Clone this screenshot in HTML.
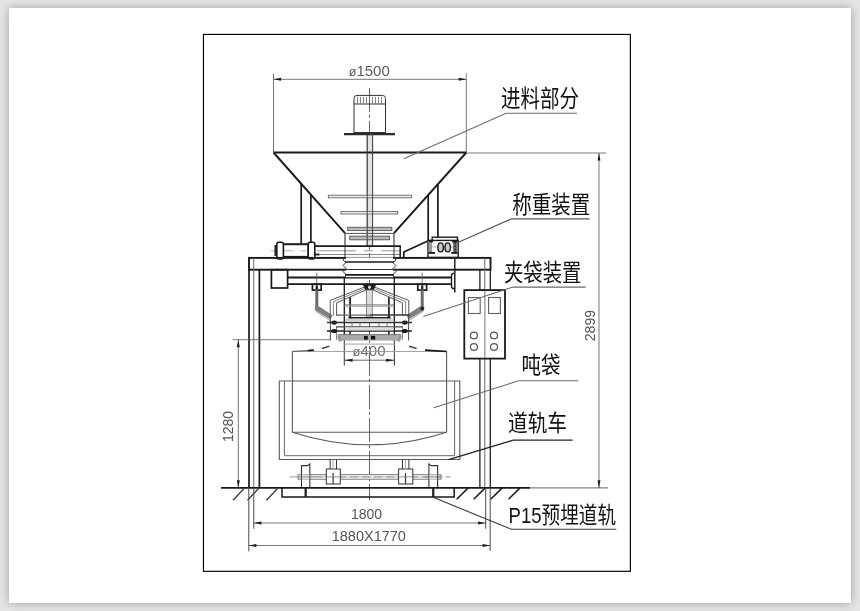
<!DOCTYPE html>
<html lang="zh">
<head>
<meta charset="utf-8">
<title>吨袋包装机 结构示意图</title>
<style>
html,body{margin:0;padding:0;}
body{width:860px;height:611px;background:#e4e4e4;overflow:hidden;position:relative;font-family:"Liberation Sans",sans-serif;}
.paper{position:absolute;left:9px;top:8px;width:842px;height:595px;background:#fff;box-shadow:0 0 9px 0 rgba(0,0,0,0.29);}
svg{position:absolute;left:0;top:0;will-change:transform;filter:grayscale(1);}
svg text{font-family:"Liberation Sans",sans-serif;}
svg text.lbl{font-family:"Liberation Sans","Noto Sans CJK SC",sans-serif;}
</style>
</head>
<body>
<div class="paper"></div>
<svg width="860" height="611" viewBox="0 0 860 611" stroke-linecap="butt">
<!-- drawing frame -->
<rect x="203.45" y="34.4" width="426.9" height="536.9" fill="none" stroke="#000" stroke-width="1.15"/>
<!-- centre line -->
<line x1="369.5" y1="88" x2="369.5" y2="500" stroke="#555" stroke-width="0.9" stroke-dasharray="24 3 3 3"/>
<!-- dim 1500 -->
<line x1="273.5" y1="73.5" x2="273.5" y2="152" stroke="#555" stroke-width="0.8"/>
<line x1="466.3" y1="73.5" x2="466.3" y2="152" stroke="#555" stroke-width="0.8"/>
<line x1="273.5" y1="79.3" x2="466.3" y2="79.3" stroke="#555" stroke-width="0.8"/>
<path d="M273.5 79.3L281.1 77.85L281.1 80.75Z" fill="#1a1a1a"/>
<path d="M466.3 79.3L458.7 80.75L458.7 77.85Z" fill="#1a1a1a"/>
<text x="369.3" y="75.5" font-size="15" fill="#5c5c5c" text-anchor="middle"><tspan font-size="12.5">ø</tspan>1500</text>
<!-- motor -->
<path d="M354 104V98.5Q354 95.4 357 95.4H382.5Q385.5 95.4 385.5 98.5V104" fill="none" stroke="#333" stroke-width="1.0"/>
<line x1="357.5" y1="96.8" x2="357.5" y2="103.5" stroke="#888" stroke-width="1.0"/>
<line x1="360.5" y1="96.8" x2="360.5" y2="103.5" stroke="#888" stroke-width="1.0"/>
<line x1="363.5" y1="96.8" x2="363.5" y2="103.5" stroke="#888" stroke-width="1.0"/>
<line x1="366.5" y1="96.8" x2="366.5" y2="103.5" stroke="#888" stroke-width="1.0"/>
<line x1="372.5" y1="96.8" x2="372.5" y2="103.5" stroke="#888" stroke-width="1.0"/>
<line x1="375.5" y1="96.8" x2="375.5" y2="103.5" stroke="#888" stroke-width="1.0"/>
<line x1="378.5" y1="96.8" x2="378.5" y2="103.5" stroke="#888" stroke-width="1.0"/>
<line x1="381.5" y1="96.8" x2="381.5" y2="103.5" stroke="#888" stroke-width="1.0"/>
<rect x="354" y="104" width="31.5" height="28.5" fill="none" stroke="#333" stroke-width="1.0"/>
<line x1="344" y1="134.2" x2="395" y2="134.2" stroke="#2a2a2a" stroke-width="2.3"/>
<rect x="367.2" y="135" width="5.4" height="111" fill="#e2e2e2" stroke="#555" stroke-width="0.9"/>
<!-- hopper -->
<line x1="273.5" y1="152.5" x2="466.3" y2="152.5" stroke="#1a1a1a" stroke-width="1.9"/>
<line x1="273.5" y1="152.5" x2="345" y2="233.2" stroke="#1a1a1a" stroke-width="1.9"/>
<line x1="466.3" y1="152.5" x2="394" y2="233.2" stroke="#1a1a1a" stroke-width="1.9"/>
<line x1="345" y1="233.4" x2="394" y2="233.4" stroke="#555" stroke-width="1.0"/>
<line x1="345" y1="233.2" x2="345" y2="246" stroke="#333" stroke-width="1.1"/>
<line x1="394" y1="233.2" x2="394" y2="246" stroke="#333" stroke-width="1.1"/>
<line x1="466" y1="153" x2="606" y2="153" stroke="#555" stroke-width="0.8"/>
<line x1="301.2" y1="184" x2="301.2" y2="243.4" stroke="#1a1a1a" stroke-width="1.7"/>
<line x1="310.9" y1="195" x2="310.9" y2="243.4" stroke="#1a1a1a" stroke-width="1.7"/>
<line x1="437.9" y1="184.5" x2="437.9" y2="237.5" stroke="#1a1a1a" stroke-width="1.7"/>
<line x1="428.2" y1="195.3" x2="428.2" y2="241" stroke="#1a1a1a" stroke-width="1.7"/>
<rect x="328.3" y="195.2" width="83.1" height="2.6" fill="#eee" stroke="#555" stroke-width="0.8"/>
<rect x="341" y="211.4" width="56.8" height="2.6" fill="#eee" stroke="#555" stroke-width="0.8"/>
<rect x="347.7" y="227.3" width="44.1" height="3.3" fill="#bbb" stroke="#555" stroke-width="0.9"/>
<rect x="349.7" y="236.2" width="39.8" height="3.6" fill="#bbb" stroke="#555" stroke-width="0.9"/>
<line x1="367.2" y1="135" x2="367.2" y2="246" stroke="#4a4a4a" stroke-width="1.0"/>
<line x1="372.6" y1="135" x2="372.6" y2="246" stroke="#4a4a4a" stroke-width="1.0"/>
<!-- cylinder + slide gate -->
<line x1="271" y1="250.8" x2="293" y2="250.8" stroke="#aaa" stroke-width="0.9"/>
<line x1="300.5" y1="250.8" x2="306.5" y2="250.8" stroke="#aaa" stroke-width="0.9"/>
<rect x="283" y="244.2" width="25.5" height="12.7" fill="none" stroke="#1a1a1a" stroke-width="2.0"/>
<rect x="276.8" y="242.2" width="6.6" height="16.8" fill="#fff" stroke="#1a1a1a" stroke-width="1.6" rx="2"/>
<rect x="308.2" y="242.2" width="6.6" height="16.8" fill="#fff" stroke="#1a1a1a" stroke-width="1.6" rx="2"/>
<line x1="275.2" y1="245" x2="275.2" y2="256" stroke="#1a1a1a" stroke-width="1.5"/>
<path d="M314.8 246.1H400.2" fill="none" stroke="#1a1a1a" stroke-width="1.8"/>
<path d="M314.8 254.5H319.6" fill="none" stroke="#1a1a1a" stroke-width="1.8"/>
<line x1="317" y1="250.8" x2="400" y2="250.8" stroke="#999" stroke-width="1.0" stroke-dasharray="39 8 9 8 18 0"/>
<line x1="319.6" y1="254.5" x2="400" y2="254.5" stroke="#888" stroke-width="1.0"/>
<line x1="400.2" y1="245.3" x2="400.2" y2="257.4" stroke="#1a1a1a" stroke-width="1.5"/>
<line x1="345" y1="246" x2="345" y2="257" stroke="#333" stroke-width="1.0"/>
<line x1="394" y1="246" x2="394" y2="257" stroke="#333" stroke-width="1.0"/>
<!-- weighing device -->
<line x1="403.8" y1="252" x2="427.2" y2="241.2" stroke="#1a1a1a" stroke-width="1.7"/>
<line x1="403.8" y1="251.5" x2="403.8" y2="257.4" stroke="#1a1a1a" stroke-width="1.7"/>
<rect x="428" y="240.3" width="30.2" height="17.1" fill="#fff" stroke="#1a1a1a" stroke-width="1.4"/>
<rect x="432.2" y="237.2" width="25.2" height="3.2" fill="#fff" stroke="#1a1a1a" stroke-width="1.4"/>
<rect x="428.6" y="242" width="3.4" height="10" fill="#999" stroke="none" stroke-width="0"/>
<rect x="453" y="241.5" width="4.4" height="11.5" fill="#777" stroke="none" stroke-width="0"/>
<line x1="432.2" y1="246.9" x2="453" y2="246.9" stroke="#888" stroke-width="0.7"/>
<ellipse cx="440.6" cy="247.4" rx="2.7" ry="4.5" fill="#ccc" stroke="#1a1a1a" stroke-width="1.4"/>
<ellipse cx="447.7" cy="247.4" rx="2.7" ry="4.5" fill="#ccc" stroke="#1a1a1a" stroke-width="1.4"/>
<line x1="428.6" y1="252.9" x2="435" y2="252.9" stroke="#1a1a1a" stroke-width="1.9"/>
<line x1="451.3" y1="252.9" x2="457.4" y2="252.9" stroke="#1a1a1a" stroke-width="1.9"/>
<line x1="429" y1="241.5" x2="433" y2="241.5" stroke="#1a1a1a" stroke-width="1.6"/>
<line x1="452" y1="241.5" x2="457.5" y2="241.5" stroke="#1a1a1a" stroke-width="1.6"/>
<line x1="455.2" y1="242" x2="455.2" y2="253" stroke="#1a1a1a" stroke-width="1.2" stroke-dasharray="2 1.2"/>
<!-- main frame -->
<rect x="249" y="257.9" width="241.5" height="11.8" fill="none" stroke="#1a1a1a" stroke-width="1.9"/>
<line x1="249" y1="269.5" x2="249" y2="487.9" stroke="#1a1a1a" stroke-width="1.7"/>
<line x1="253.7" y1="258.5" x2="253.7" y2="487.9" stroke="#777" stroke-width="1.1"/>
<line x1="259.4" y1="269.5" x2="259.4" y2="487.9" stroke="#1a1a1a" stroke-width="1.7"/>
<line x1="479.9" y1="269.5" x2="479.9" y2="487.9" stroke="#1a1a1a" stroke-width="1.25"/>
<line x1="484.8" y1="258" x2="484.8" y2="487.9" stroke="#6a6a6a" stroke-width="1.0"/>
<line x1="490.3" y1="269.5" x2="490.3" y2="487.9" stroke="#1a1a1a" stroke-width="1.25"/>
<rect x="271.4" y="269.7" width="16.2" height="18.3" fill="none" stroke="#1a1a1a" stroke-width="1.7"/>
<line x1="287.6" y1="277.5" x2="451.5" y2="277.5" stroke="#1a1a1a" stroke-width="1.8"/>
<line x1="287.6" y1="284.2" x2="451.5" y2="284.2" stroke="#1a1a1a" stroke-width="1.8"/>
<path d="M454.6 273.4H452.6L451.5 275V287L452.6 288.5H454.6" fill="none" stroke="#1a1a1a" stroke-width="1.4"/>
<line x1="454.8" y1="257.4" x2="454.8" y2="292.6" stroke="#222" stroke-width="1.5"/>
<!-- bellows -->
<rect x="346" y="257.4" width="47" height="19.8" fill="#fff" stroke="none" stroke-width="0"/>
<line x1="345" y1="262" x2="394" y2="262" stroke="#1a1a1a" stroke-width="1.6"/>
<line x1="345" y1="269.5" x2="394" y2="269.5" stroke="#333" stroke-width="1.0"/>
<line x1="345" y1="274.9" x2="394" y2="274.9" stroke="#1a1a1a" stroke-width="1.6"/>
<path d="M345 257.4L343 260L346 262.5L343 265.5L346 268.5L343 271.5L346 274.5L345 277.2" fill="none" stroke="#333" stroke-width="1.0"/>
<path d="M394 257.4L396 260L393 262.5L396 265.5L393 268.5L396 271.5L393 274.5L394 277.2" fill="none" stroke="#333" stroke-width="1.0"/>
<!-- bag clamp assembly -->
<line x1="344.3" y1="278" x2="344.3" y2="341" stroke="#1a1a1a" stroke-width="1.3"/>
<line x1="394.3" y1="278" x2="394.3" y2="341" stroke="#1a1a1a" stroke-width="1.3"/>
<line x1="344.3" y1="341" x2="344.3" y2="365.4" stroke="#444" stroke-width="1.1"/>
<line x1="394.4" y1="341" x2="394.4" y2="365.4" stroke="#444" stroke-width="1.1"/>
<line x1="422.2" y1="272.6" x2="422.2" y2="284" stroke="#666" stroke-width="0.9"/>
<rect x="417.8" y="284.3" width="8.8" height="5.8" fill="#fff" stroke="#1a1a1a" stroke-width="1.7"/>
<line x1="422.2" y1="285.4" x2="422.2" y2="289.4" stroke="#1a1a1a" stroke-width="2.2"/>
<rect x="420.7" y="290.1" width="3.0" height="17.9" fill="#6a6a6a" stroke="none" stroke-width="0"/>
<path d="M424.2 306.5L419.8 306.5L406.5 315.2L408.5 319.5L424.2 310Z" fill="#808080" stroke="none" stroke-width="0"/>
<path d="M423.5 311L409.0 320.5" fill="none" stroke="#999" stroke-width="1.0"/>
<ellipse cx="422.2" cy="308.5" rx="1.9" ry="1.9" fill="#222" stroke="none" stroke-width="0"/>
<path d="M372.5 286.3L408.8 300.4V316" fill="none" stroke="#555" stroke-width="1.0"/>
<path d="M372.0 287.8L405.6 301.6V316" fill="none" stroke="#777" stroke-width="0.9"/>
<path d="M371.5 289.3L402.4 302.8V316" fill="none" stroke="#555" stroke-width="1.0"/>
<line x1="388.9" y1="297.2" x2="388.9" y2="318" stroke="#1a1a1a" stroke-width="1.7"/>
<line x1="388.9" y1="327.5" x2="388.9" y2="335.3" stroke="#1a1a1a" stroke-width="1.5"/>
<ellipse cx="388.9" cy="317.8" rx="1.8" ry="1.8" fill="#1a1a1a" stroke="none" stroke-width="0"/>
<line x1="408.6" y1="316" x2="408.6" y2="340.6" stroke="#555" stroke-width="1.1"/>
<line x1="402.5" y1="327" x2="402.5" y2="340" stroke="#777" stroke-width="0.9"/>
<ellipse cx="404.8" cy="322.6" rx="2.8" ry="2.1" fill="#111" stroke="none" stroke-width="0"/>
<ellipse cx="404.8" cy="330.9" rx="3.0" ry="2.0" fill="#111" stroke="none" stroke-width="0"/>
<path d="M397.5 335L402.2 335.5L400.0 341.7L397.0 341Z" fill="#999" stroke="none" stroke-width="0"/>
<line x1="316.8" y1="272.6" x2="316.8" y2="284" stroke="#666" stroke-width="0.9"/>
<rect x="312.4" y="284.3" width="8.8" height="5.8" fill="#fff" stroke="#1a1a1a" stroke-width="1.7"/>
<line x1="316.8" y1="285.4" x2="316.8" y2="289.4" stroke="#1a1a1a" stroke-width="2.2"/>
<rect x="315.3" y="290.1" width="3.0" height="17.9" fill="#6a6a6a" stroke="none" stroke-width="0"/>
<path d="M314.8 306.5L319.2 306.5L332.5 315.2L330.5 319.5L314.8 310Z" fill="#808080" stroke="none" stroke-width="0"/>
<path d="M315.5 311L330.0 320.5" fill="none" stroke="#999" stroke-width="1.0"/>
<path d="M366.5 286.3L330.2 300.4V316" fill="none" stroke="#555" stroke-width="1.0"/>
<path d="M367.0 287.8L333.4 301.6V316" fill="none" stroke="#777" stroke-width="0.9"/>
<path d="M367.5 289.3L336.6 302.8V316" fill="none" stroke="#555" stroke-width="1.0"/>
<line x1="350.1" y1="297.2" x2="350.1" y2="318" stroke="#1a1a1a" stroke-width="1.7"/>
<line x1="350.1" y1="327.5" x2="350.1" y2="335.3" stroke="#1a1a1a" stroke-width="1.5"/>
<ellipse cx="350.1" cy="317.8" rx="1.8" ry="1.8" fill="#1a1a1a" stroke="none" stroke-width="0"/>
<line x1="330.4" y1="316" x2="330.4" y2="340.6" stroke="#555" stroke-width="1.1"/>
<line x1="336.5" y1="327" x2="336.5" y2="340" stroke="#777" stroke-width="0.9"/>
<ellipse cx="334.2" cy="322.6" rx="2.8" ry="2.1" fill="#111" stroke="none" stroke-width="0"/>
<ellipse cx="334.2" cy="330.9" rx="3.0" ry="2.0" fill="#111" stroke="none" stroke-width="0"/>
<path d="M341.5 335L336.8 335.5L339.0 341.7L342.0 341Z" fill="#999" stroke="none" stroke-width="0"/>
<path d="M363.2 284.3H375.8L373 290H366Z" fill="#1a1a1a" stroke="#1a1a1a" stroke-width="1.0"/>
<ellipse cx="369.5" cy="287.2" rx="1.5" ry="1.8" fill="#ddd" stroke="none" stroke-width="0"/>
<rect x="366.4" y="290" width="5.9" height="27" fill="#ddd" stroke="#777" stroke-width="0.9"/>
<path d="M344.5 304.9H393.9" fill="none" stroke="#777" stroke-width="1.0"/>
<path d="M344.5 306.2H393.9" fill="none" stroke="#999" stroke-width="1.0"/>
<line x1="337" y1="315.1" x2="369.5" y2="315.1" stroke="#666" stroke-width="1.1"/>
<line x1="369.5" y1="315.1" x2="409.5" y2="315.1" stroke="#3a3a3a" stroke-width="1.5"/>
<line x1="350.1" y1="317.8" x2="388.9" y2="317.8" stroke="#1a1a1a" stroke-width="1.7"/>
<line x1="327" y1="322.5" x2="412" y2="322.5" stroke="#333" stroke-width="1.3"/>
<line x1="336" y1="326.8" x2="403" y2="326.8" stroke="#444" stroke-width="1.2"/>
<line x1="327" y1="331" x2="412" y2="331" stroke="#222" stroke-width="1.4"/>
<path d="M375.6 319.9L390.5 322.5M363.4 319.9L348.5 322.5" fill="none" stroke="#333" stroke-width="1.6"/>
<line x1="352" y1="322.5" x2="352" y2="331" stroke="#666" stroke-width="0.9"/>
<line x1="360" y1="322.5" x2="360" y2="331" stroke="#666" stroke-width="0.9"/>
<line x1="379" y1="322.5" x2="379" y2="331" stroke="#666" stroke-width="0.9"/>
<line x1="387" y1="322.5" x2="387" y2="331" stroke="#666" stroke-width="0.9"/>
<rect x="345" y="318.5" width="48.5" height="3.5" fill="#d0d0d0" stroke="none" stroke-width="0"/>
<rect x="345" y="327.3" width="48.5" height="3.2" fill="#dcdcdc" stroke="none" stroke-width="0"/>
<rect x="341.7" y="334.8" width="55.6" height="5.8" fill="#aaa" stroke="none" stroke-width="0"/>
<line x1="338" y1="334.6" x2="401" y2="334.6" stroke="#666" stroke-width="0.9"/>
<rect x="364.0" y="335.9" width="3.8" height="3.7" fill="#111" stroke="none" stroke-width="0"/>
<rect x="370.9" y="335.9" width="4.3" height="3.7" fill="#111" stroke="none" stroke-width="0"/>
<!-- dim 400 -->
<line x1="344.3" y1="360.2" x2="394.4" y2="360.2" stroke="#555" stroke-width="0.9"/>
<path d="M344.3 360.2L352.6 358.7L352.6 361.7Z" fill="#1a1a1a"/>
<path d="M394.4 360.2L386.1 361.7L386.1 358.7Z" fill="#1a1a1a"/>
<text x="369" y="356" font-size="15" fill="#6e6e6e" text-anchor="middle"><tspan font-size="13">ø</tspan>400</text>
<!-- dim 1280 -->
<line x1="232.7" y1="339.7" x2="330.5" y2="339.7" stroke="#555" stroke-width="0.8"/>
<line x1="238.3" y1="339.7" x2="238.3" y2="487.9" stroke="#555" stroke-width="0.8"/>
<path d="M238.3 339.7L239.75 347.3L236.85 347.3Z" fill="#1a1a1a"/>
<path d="M238.3 487.9L236.85 480.3L239.75 480.3Z" fill="#1a1a1a"/>
<text x="232.8" y="426.5" font-size="14" fill="#555" text-anchor="middle" transform="rotate(-90 232.8 426.5)">1280</text>
<!-- rail cart -->
<path d="M279.3 459.5V381H459.8V459.5Z" fill="none" stroke="#585858" stroke-width="1.1"/>
<path d="M284.4 381V455.7H454.6V381" fill="none" stroke="#666" stroke-width="1.0"/>
<!-- bulk bag -->
<line x1="292.4" y1="351.5" x2="446.5" y2="351.5" stroke="#999" stroke-width="0.9"/>
<line x1="344.3" y1="344.1" x2="394.4" y2="344.1" stroke="#999" stroke-width="0.9"/>
<path d="M292.4 432.2V351.5" fill="none" stroke="#585858" stroke-width="1.1"/>
<path d="M446.6 432.2V351.5" fill="none" stroke="#585858" stroke-width="1.1"/>
<line x1="292.4" y1="351.4" x2="313.8" y2="350.2" stroke="#555" stroke-width="1.0"/>
<line x1="446.6" y1="351.4" x2="425.2" y2="350.2" stroke="#555" stroke-width="1.0"/>
<line x1="308" y1="350.6" x2="314" y2="350" stroke="#1a1a1a" stroke-width="1.7"/>
<line x1="446.6" y1="351.5" x2="425" y2="350.2" stroke="#1a1a1a" stroke-width="1.7"/>
<line x1="322" y1="348.5" x2="329.3" y2="346.3" stroke="#444" stroke-width="1.6"/>
<line x1="416.6" y1="348.6" x2="409" y2="346.2" stroke="#444" stroke-width="1.6"/>
<line x1="292.4" y1="432.2" x2="446.6" y2="432.2" stroke="#585858" stroke-width="1.1"/>
<path d="M292.4 432.2Q369.5 457.4 446.6 432.2" fill="none" stroke="#585858" stroke-width="1.1"/>
<!-- wheels and axle -->
<rect x="298" y="474.6" width="143" height="4.7" fill="#e6e6e6" stroke="#777" stroke-width="0.8"/>
<line x1="289.6" y1="476.9" x2="450.4" y2="476.9" stroke="#777" stroke-width="0.8" stroke-dasharray="9 3"/>
<line x1="330.1" y1="459.4" x2="330.1" y2="469" stroke="#333" stroke-width="1.0"/>
<line x1="336.5" y1="459.4" x2="336.5" y2="469" stroke="#333" stroke-width="1.0"/>
<rect x="326.3" y="469" width="14.0" height="15" fill="#fff" stroke="#333" stroke-width="1.0"/>
<line x1="333.1" y1="473" x2="333.1" y2="484" stroke="#333" stroke-width="1.2"/>
<line x1="333.1" y1="459.5" x2="333.1" y2="469" stroke="#999" stroke-width="0.8"/>
<line x1="324.8" y1="476.9" x2="341.8" y2="476.9" stroke="#777" stroke-width="0.8"/>
<line x1="402.50000000000006" y1="459.4" x2="402.50000000000006" y2="469" stroke="#333" stroke-width="1.0"/>
<line x1="408.90000000000003" y1="459.4" x2="408.90000000000003" y2="469" stroke="#333" stroke-width="1.0"/>
<rect x="398.6" y="469" width="14.2" height="15" fill="#fff" stroke="#333" stroke-width="1.0"/>
<line x1="405.50000000000006" y1="473" x2="405.50000000000006" y2="484" stroke="#333" stroke-width="1.2"/>
<line x1="405.50000000000006" y1="459.5" x2="405.50000000000006" y2="469" stroke="#999" stroke-width="0.8"/>
<line x1="397.1" y1="476.9" x2="414.3" y2="476.9" stroke="#777" stroke-width="0.8"/>
<path d="M301.5 487.5V465.6H307.6L309.8 463.8V487.5" fill="#fff" stroke="#333" stroke-width="1.1"/>
<rect x="302.1" y="474.8" width="7.1" height="4.3" fill="#e9e9e9" stroke="none" stroke-width="0"/>
<line x1="301.5" y1="474.6" x2="309.8" y2="474.6" stroke="#999" stroke-width="0.7"/>
<line x1="301.5" y1="479.3" x2="309.8" y2="479.3" stroke="#999" stroke-width="0.7"/>
<line x1="297.5" y1="476.9" x2="313.8" y2="476.9" stroke="#777" stroke-width="0.8"/>
<line x1="305.65" y1="487.9" x2="305.65" y2="497" stroke="#1a1a1a" stroke-width="2.2"/>
<path d="M437.6 487.5V465.6H431.09999999999997L428.9 463.8V487.5" fill="#fff" stroke="#333" stroke-width="1.1"/>
<rect x="429.5" y="474.8" width="7.5" height="4.3" fill="#e9e9e9" stroke="none" stroke-width="0"/>
<line x1="428.9" y1="474.6" x2="437.6" y2="474.6" stroke="#999" stroke-width="0.7"/>
<line x1="428.9" y1="479.3" x2="437.6" y2="479.3" stroke="#999" stroke-width="0.7"/>
<line x1="424.9" y1="476.9" x2="441.6" y2="476.9" stroke="#777" stroke-width="0.8"/>
<line x1="433.25" y1="487.9" x2="433.25" y2="497" stroke="#1a1a1a" stroke-width="2.2"/>
<path d="M282 487.9V497H454.2V487.9" fill="none" stroke="#1a1a1a" stroke-width="1.5"/>
<!-- ground -->
<line x1="221" y1="487.9" x2="530" y2="487.9" stroke="#1a1a1a" stroke-width="1.75"/>
<line x1="530" y1="487.9" x2="608" y2="487.9" stroke="#555" stroke-width="0.9"/>
<line x1="244.3" y1="488.3" x2="233.0" y2="500.3" stroke="#3a3a3a" stroke-width="1.3"/>
<line x1="258.8" y1="488.3" x2="247.5" y2="500.3" stroke="#3a3a3a" stroke-width="1.3"/>
<line x1="277.8" y1="488.3" x2="266.5" y2="500.3" stroke="#3a3a3a" stroke-width="1.3"/>
<line x1="468.2" y1="487.9" x2="456.7" y2="499.3" stroke="#1a1a1a" stroke-width="1.5"/>
<line x1="485.2" y1="487.9" x2="473.7" y2="499.3" stroke="#1a1a1a" stroke-width="1.5"/>
<line x1="502.2" y1="487.9" x2="490.7" y2="499.3" stroke="#1a1a1a" stroke-width="1.5"/>
<line x1="520" y1="487.9" x2="508.5" y2="499.3" stroke="#1a1a1a" stroke-width="1.5"/>
<!-- dims 1800 / 1880X1770 -->
<line x1="248.8" y1="487.9" x2="248.8" y2="551.3" stroke="#4a4a4a" stroke-width="1.0"/>
<line x1="253.8" y1="487.9" x2="253.8" y2="528.8" stroke="#4a4a4a" stroke-width="1.0"/>
<line x1="485.7" y1="487.9" x2="485.7" y2="528.8" stroke="#4a4a4a" stroke-width="1.0"/>
<line x1="490.2" y1="487.9" x2="490.2" y2="550.8" stroke="#4a4a4a" stroke-width="1.0"/>
<line x1="253.8" y1="523" x2="485.7" y2="523" stroke="#555" stroke-width="0.8"/>
<path d="M253.8 523L261.4 521.55L261.4 524.45Z" fill="#1a1a1a"/>
<path d="M485.7 523L478.1 524.45L478.1 521.55Z" fill="#1a1a1a"/>
<line x1="248.8" y1="545.5" x2="490.2" y2="545.5" stroke="#555" stroke-width="0.8"/>
<path d="M248.8 545.5L256.4 544.05L256.4 546.95Z" fill="#1a1a1a"/>
<path d="M490.2 545.5L482.6 546.95L482.6 544.05Z" fill="#1a1a1a"/>
<text x="366.5" y="518.8" font-size="14" fill="#555" text-anchor="middle">1800</text>
<text x="368.8" y="541.3" font-size="14.5" fill="#555" text-anchor="middle">1880X1770</text>
<!-- dim 2899 -->
<line x1="599" y1="153" x2="599" y2="487.9" stroke="#555" stroke-width="0.8"/>
<path d="M599 153L600.45 160.6L597.55 160.6Z" fill="#1a1a1a"/>
<path d="M599 487.9L597.55 480.3L600.45 480.3Z" fill="#1a1a1a"/>
<text x="595" y="325.6" font-size="14" fill="#555" text-anchor="middle" transform="rotate(-90 595 325.6)">2899</text>
<!-- control box -->
<rect x="464.3" y="290.1" width="40.7" height="68.5" fill="#fff" stroke="#1a1a1a" stroke-width="1.8"/>
<line x1="484.9" y1="291" x2="484.9" y2="358" stroke="#777" stroke-width="1.0"/>
<rect x="468.4" y="297.5" width="11.8" height="16.0" fill="none" stroke="#606060" stroke-width="1.1"/>
<rect x="488.6" y="297.5" width="11.8" height="16.0" fill="none" stroke="#606060" stroke-width="1.1"/>
<ellipse cx="473.9" cy="335.4" rx="3.5" ry="3.3" fill="none" stroke="#5a5a5a" stroke-width="1.3"/>
<ellipse cx="473.9" cy="347.0" rx="3.5" ry="3.3" fill="none" stroke="#5a5a5a" stroke-width="1.3"/>
<ellipse cx="494" cy="335.4" rx="3.5" ry="3.3" fill="none" stroke="#5a5a5a" stroke-width="1.3"/>
<ellipse cx="494" cy="347.0" rx="3.5" ry="3.3" fill="none" stroke="#5a5a5a" stroke-width="1.3"/>
<!-- leaders and labels -->
<path d="M403.8 158.8L506 113.3H577" fill="none" stroke="#6a6a6a" stroke-width="1.1"/>
<path d="M458.4 242.3L511.3 218.9H589.6" fill="none" stroke="#585858" stroke-width="1.15"/>
<path d="M423.3 316.6L512.8 287.1H585.7" fill="none" stroke="#6a6a6a" stroke-width="1.1"/>
<path d="M433.7 407.8L518.7 380.8H578.3" fill="none" stroke="#6a6a6a" stroke-width="1.1"/>
<path d="M448.6 459.7L513.3 440.1H572.6" fill="none" stroke="#222" stroke-width="1.4"/>
<path d="M433.8 497.5L511.3 529.3H616.3" fill="none" stroke="#3a3a3a" stroke-width="1.1"/>
<text class="lbl" x="501" y="107.4" font-size="24" fill="#111" textLength="78" lengthAdjust="spacingAndGlyphs">进料部分</text>
<text class="lbl" x="512.3" y="213" font-size="24" fill="#111" textLength="78" lengthAdjust="spacingAndGlyphs">称重装置</text>
<text class="lbl" x="504" y="280.8" font-size="24" fill="#111" textLength="77.5" lengthAdjust="spacingAndGlyphs">夹袋装置</text>
<text class="lbl" x="521.5" y="372.6" font-size="23" fill="#111" textLength="39" lengthAdjust="spacingAndGlyphs">吨袋</text>
<text class="lbl" x="508" y="430.5" font-size="23" fill="#111" textLength="59" lengthAdjust="spacingAndGlyphs">道轨车</text>
<text class="lbl" x="508.5" y="523.2" font-size="22.5" fill="#111" textLength="107.5" lengthAdjust="spacingAndGlyphs">P15预埋道轨</text>
</svg>
</body>
</html>
